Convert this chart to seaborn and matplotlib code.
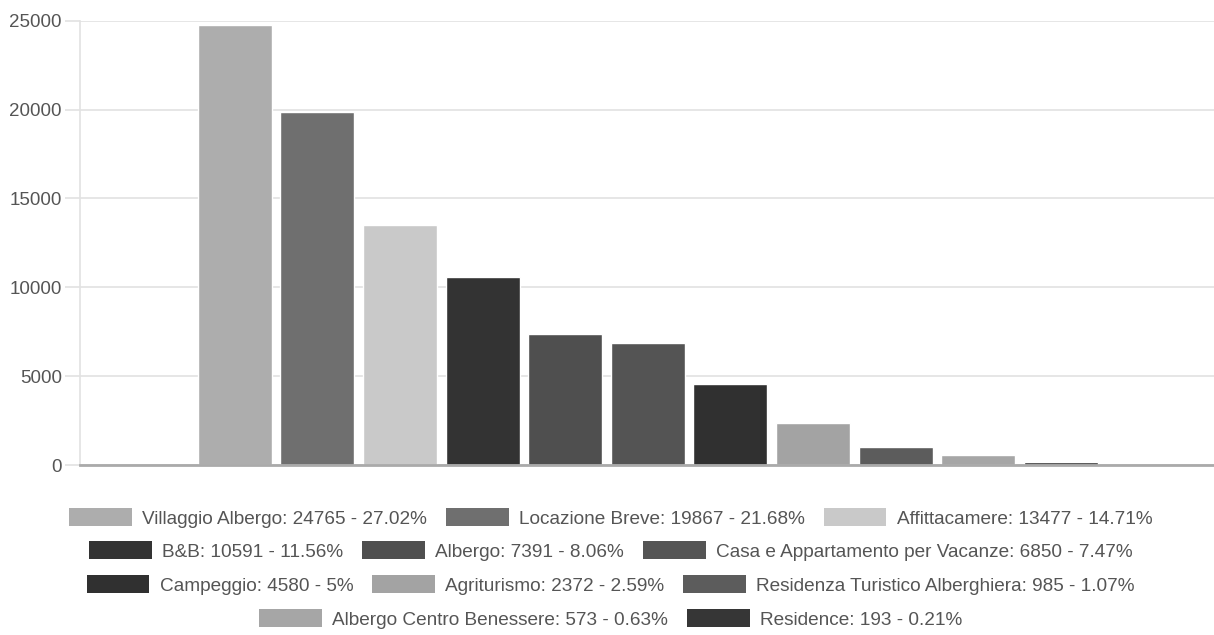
import matplotlib
matplotlib.use("Agg")
import matplotlib.pyplot as plt
from matplotlib.patches import Patch
import seaborn as sns
import pandas as pd

categories = ["Villaggio Albergo", "Locazione Breve", "Affittacamere", "B&B", "Albergo",
              "Casa e Appartamento per Vacanze", "Campeggio", "Agriturismo",
              "Residenza Turistico Alberghiera", "Albergo Centro Benessere", "Residence"]
values = [24765, 19867, 13477, 10591, 7391, 6850, 4580, 2372, 985, 573, 193]
percents = ["27.02%", "21.68%", "14.71%", "11.56%", "8.06%", "7.47%", "5%", "2.59%",
            "1.07%", "0.63%", "0.21%"]
colors = ["#adadad", "#6f6f6f", "#c9c9c9", "#333333", "#4f4f4f", "#545454",
          "#303030", "#a3a3a3", "#5c5c5c", "#a6a6a6", "#363636"]
y_ticks = [0, 5000, 10000, 15000, 20000, 25000]
legend_rows = [[0, 1, 2], [3, 4, 5], [6, 7, 8], [9, 10]]

sns.set_theme(style="white")
plt.rcParams['font.family'] = ['Liberation Sans', 'DejaVu Sans']

df = pd.DataFrame({"cat": categories, "val": values})

fig = plt.figure(figsize=(12.14, 6.35), dpi=100)
ax = fig.add_axes([80/1214, 1-465/635, 1-80/1214, (465-20.7)/635])

sns.barplot(data=df, x="cat", y="val", hue="cat", palette=colors, dodge=False,
            width=0.895, legend=False, ax=ax, saturation=1)

ax.set_xlim(-1.87, 11.85)
ax.set_ylim(0, 25000)
ax.set_yticks(y_ticks)
ax.set_yticklabels([str(t) for t in y_ticks])
ax.set_xticks([])
ax.set_xlabel("")
ax.set_ylabel("")
ax.yaxis.grid(True, color="#e2e2e2", linewidth=1.2)
ax.set_axisbelow(True)
ax.tick_params(axis="y", length=11, width=1.2, color="#e2e2e2", pad=2,
               labelsize=13.5, labelcolor="#555555", left=True)
for s in ["top", "right"]:
    ax.spines[s].set_visible(False)
ax.spines["left"].set_color("#e2e2e2")
ax.spines["left"].set_linewidth(1.2)
ax.spines["bottom"].set_color("#aaaaaa")
ax.spines["bottom"].set_linewidth(2)

row_y = [1-518/635, 1-551/635, 1-585/635, 1-619/635]
for r, idxs in enumerate(legend_rows):
    handles = [Patch(facecolor=colors[i], edgecolor="none") for i in idxs]
    labels = [f"{categories[i]}: {values[i]} - {percents[i]}" for i in idxs]
    leg = fig.legend(handles, labels, loc="center", bbox_to_anchor=(0.503, row_y[r]),
                     ncol=len(idxs), frameon=False, fontsize=13.7,
                     handlelength=3.3, handleheight=1.05, handletextpad=0.53,
                     columnspacing=1.0, borderpad=0, borderaxespad=0)
    for t in leg.get_texts():
        t.set_color("#555555")

fig.savefig("out.png", dpi=100)
